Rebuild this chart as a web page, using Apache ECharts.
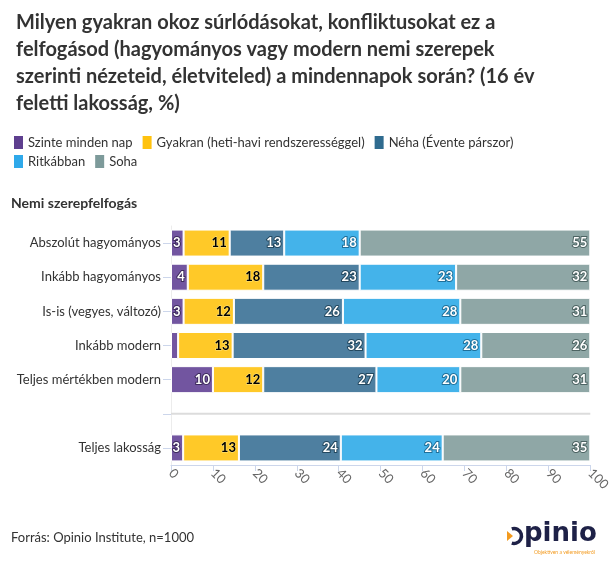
<!DOCTYPE html>
<html>
<head>
<meta charset="utf-8">
<script src="https://cdn.jsdelivr.net/npm/echarts@6/dist/echarts.min.js"></script>
<style>
html,body{margin:0;padding:0;background:#fff;}
#main{width:613px;height:569px;}
</style>
</head>
<body>
<div id="main"></div>
<script>
const categories = ['Abszolút hagyományos','Inkább hagyományos','Is-is (vegyes, változó)','Inkább modern','Teljes mértékben modern','','Teljes lakosság'];
const seriesNames = ['Szinte minden nap','Gyakran (heti-havi rendszerességgel)','Néha (Évente párszor)','Ritkábban','Soha'];
const szinteMindenNap = [3, 4, 3, 1.7, 10, null, 2.9];
const gyakran        = [11, 18, 12, 13, 12, null, 13.3];
const neha           = [13, 23, 26, 31.7, 27, null, 24.3];
const ritkabban      = [18, 23, 28, 27.6, 20, null, 24.3];
const soha           = [55, 32, 31, 26, 31, null, 35.2];
const xTicks = [0,10,20,30,40,50,60,70,80,90,100];
const separatorRow = 5;

const colors = ['#7255A0','#FFC928','#4E7FA0','#44B3EA','#8FA7A6'];
const legendColors = ['#5E3F8F','#FFC20E','#2F6B8F','#2FA9EA','#7D9A9A'];
const outline = ['#3d2a5c',null,'#23485f','#1f6f99','#4d6463'];
const allData = [szinteMindenNap, gyakran, neha, ritkabban, soha];
const FONT = 'Lato, "Noto Sans", sans-serif';

const series = [{
  name: 'separator', type: 'line', silent: true, symbol: 'none', z: 3,
  lineStyle: {color: '#dcdcdc', width: 2},
  data: [[0, separatorRow], [100, separatorRow]]
}];
allData.forEach((d, i) => series.push({
  name: seriesNames[i],
  type: 'bar',
  stack: 'total',
  data: d,
  barWidth: 27,
  z: 2,
  itemStyle: {color: colors[i], borderColor: '#fff', borderWidth: 1},
  label: {
    show: true,
    position: 'insideRight',
    distance: 3,
    fontFamily: FONT,
    fontWeight: 'bold',
    fontSize: 13,
    color: i === 1 ? '#000' : '#fff',
    textBorderColor: i === 1 ? 'rgba(255,235,150,0.8)' : outline[i],
    textBorderWidth: i === 1 ? 1 : 2,
    formatter: p => (p.value == null || p.value < 2.5) ? '' : String(Math.round(p.value))
  },
  emphasis: {disabled: true}
}));

const legendBase = {
  itemWidth: 11, itemHeight: 15, itemGap: 8, icon: 'rect',
  textStyle: {fontFamily: FONT, fontSize: 13, color: '#333', padding: [0,0,0,-1]}
};
const legendItems = seriesNames.map((n, i) => ({name: n, itemStyle: {color: legendColors[i]}}));

const chart = echarts.init(document.getElementById('main'), null, {renderer: 'canvas'});
chart.setOption({
  animation: false,
  color: legendColors,
  title: [{
    text: 'Milyen gyakran okoz súrlódásokat, konfliktusokat ez a\nfelfogásod (hagyományos vagy modern nemi szerepek\nszerinti nézeteid, életviteled) a mindennapok során? (16 év\nfeletti lakosság, %)',
    left: 11, top: 4,
    textStyle: {fontFamily: FONT, fontWeight: 'bold', fontSize: 20, color: '#333', lineHeight: 27}
  }],
  legend: [
    Object.assign({left: 7, top: 129, data: legendItems.slice(0, 3)}, legendBase),
    Object.assign({left: 7, top: 148, data: legendItems.slice(3)}, legendBase)
  ],
  graphic: [
    {type: 'text', left: 11, top: 196, style: {text: 'Nemi szerepfelfogás', font: 'bold 14px ' + FONT, fill: '#333'}},
    {type: 'text', left: 11, top: 531, style: {text: 'Forrás: Opinio Institute, n=1000', font: '13px ' + FONT, fill: '#333'}},
    {type: 'group', left: 507, top: 521, children: [
      {type: 'arc', shape: {cx: 8, cy: 11, r: 7.5, startAngle: -Math.PI/2 - 0.3, endAngle: Math.PI/2 + 0.3, clockwise: true}, style: {stroke: '#1e2147', lineWidth: 3.5, fill: null}},
      {type: 'polygon', shape: {points: [[1,6],[7,11],[1,16]]}, style: {fill: '#F39A1E'}},
      {type: 'text', x: 18, y: -4, style: {text: 'pinio', font: 'bold 26px "DejaVu Sans", sans-serif', fill: '#1e2147'}},
      {type: 'text', x: 28, y: 25, style: {text: 'Objektíven a véleményekről', font: '5px ' + FONT, fill: '#F39A1E'}}
    ]}
  ],
  grid: {left: 171, right: 22, top: 226, bottom: 104, containLabel: false},
  xAxis: {
    type: 'value', min: 0, max: 100, interval: 10,
    splitLine: {show: false},
    axisLine: {show: true, lineStyle: {color: '#ccd6eb'}},
    axisTick: {show: true, length: 6, lineStyle: {color: '#ccd6eb'}},
    axisLabel: {
      rotate: -45, fontFamily: FONT, fontSize: 13, color: '#666', margin: 6,
      formatter: v => xTicks.includes(v) ? String(v) : ''
    }
  },
  yAxis: {
    type: 'category', inverse: true, data: categories,
    axisLine: {show: true, lineStyle: {color: '#ececec', width: 1}},
    axisTick: {show: true, alignWithLabel: true, length: 8, lineStyle: {color: '#ccd6eb'}},
    axisLabel: {fontFamily: FONT, fontSize: 13, color: '#333', margin: 10}
  },
  series: series
});
</script>
</body>
</html>
